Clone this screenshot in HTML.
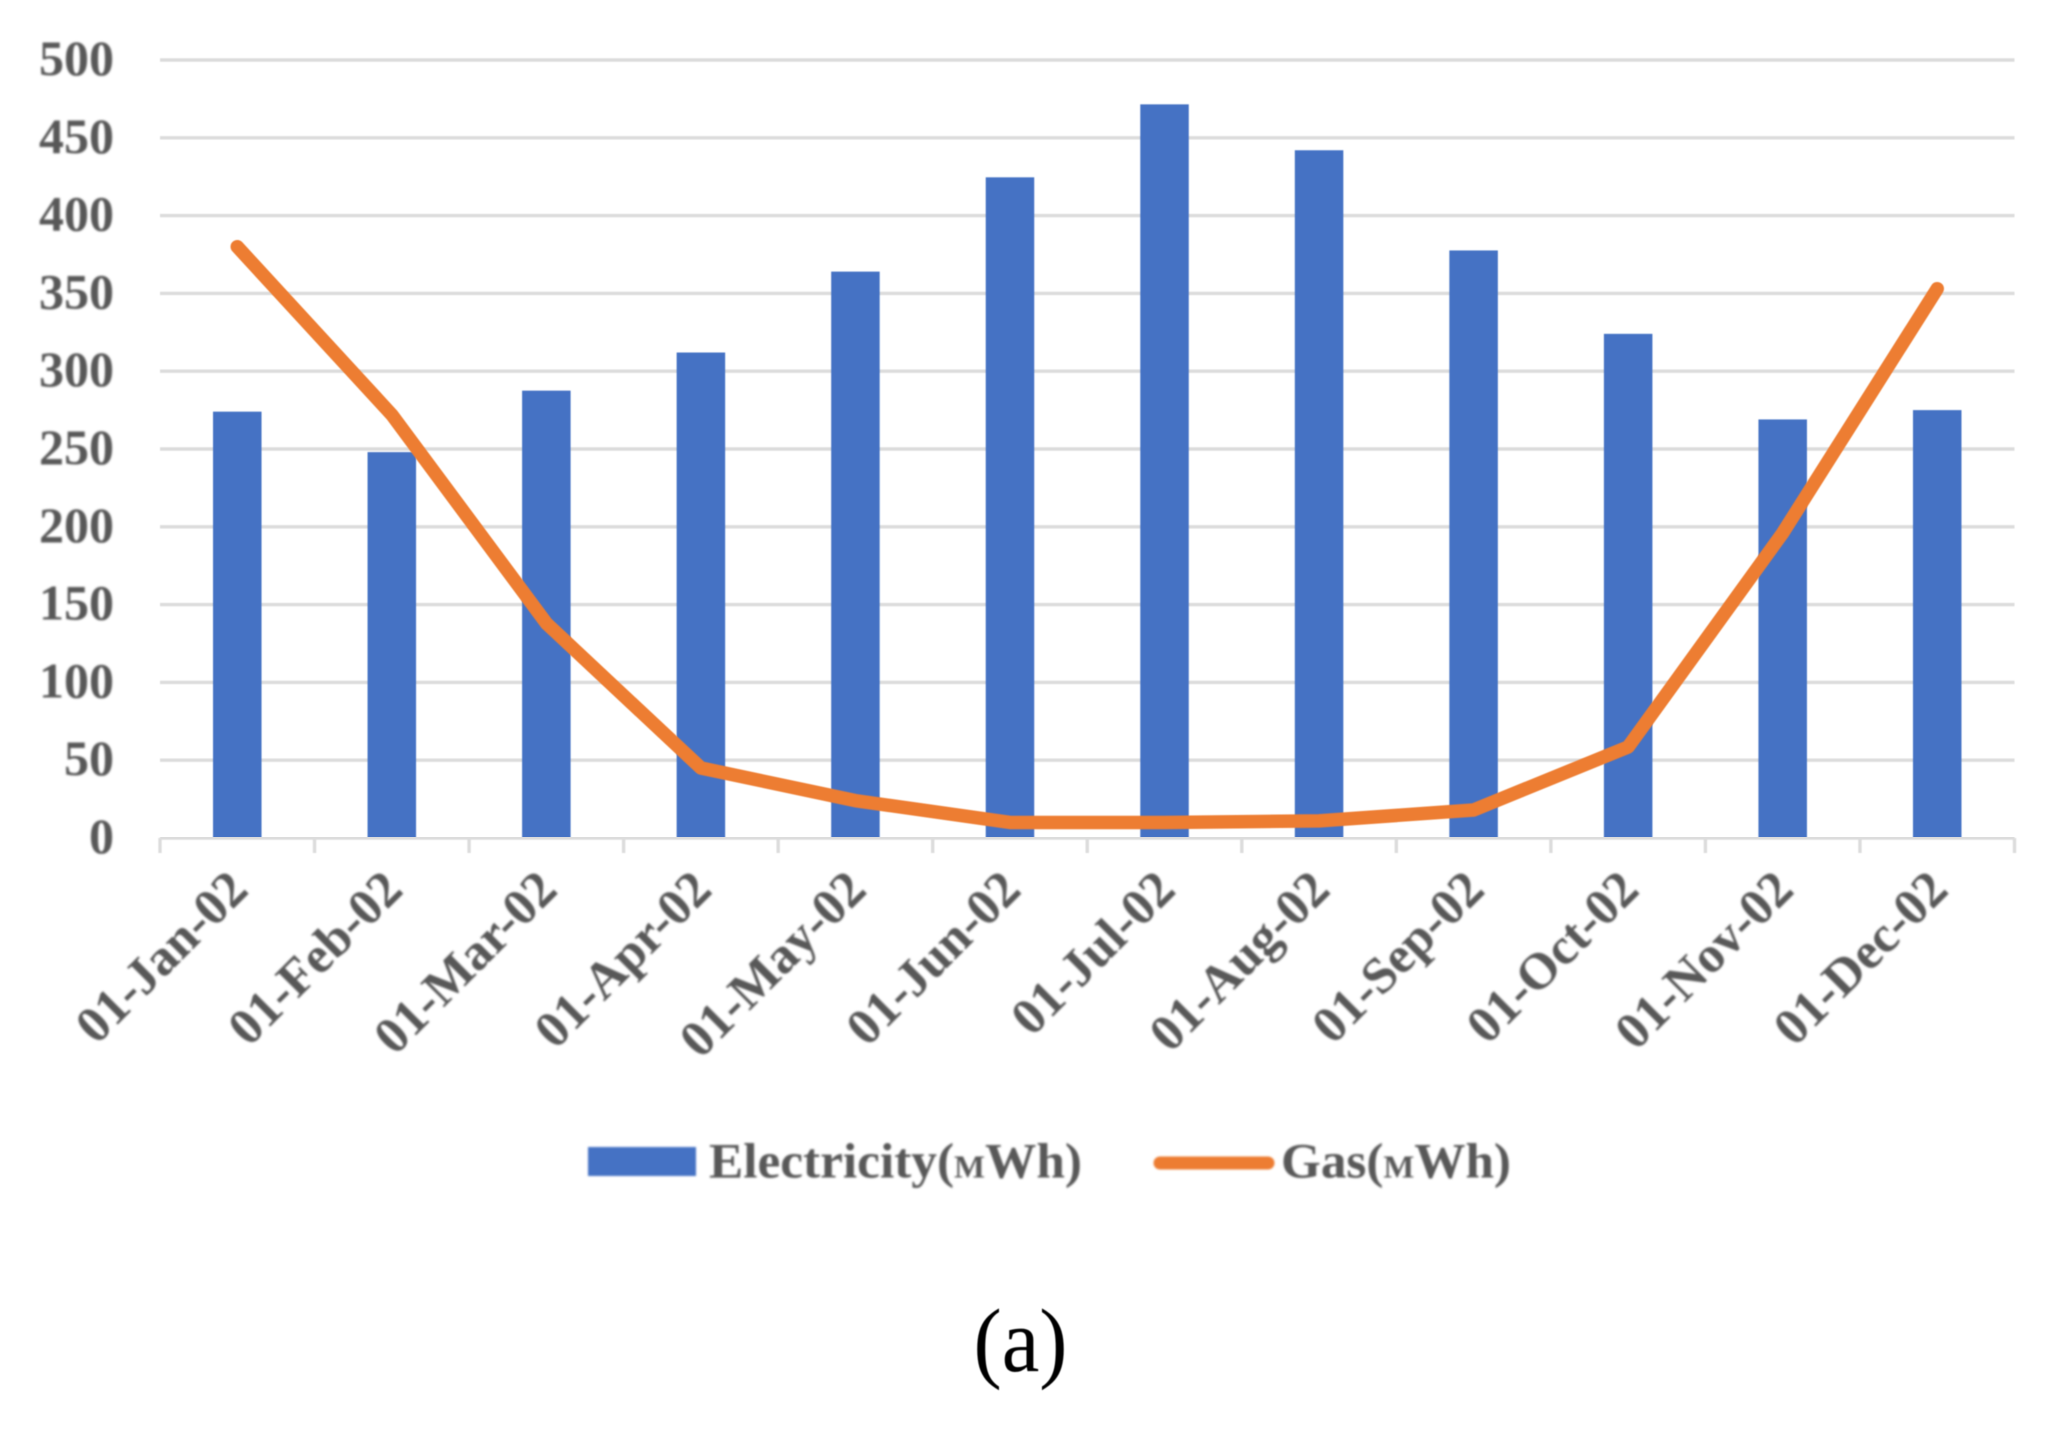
<!DOCTYPE html>
<html lang="en">
<head>
<meta charset="utf-8">
<title>Electricity and gas use, 2002</title>
<style>
html,body{margin:0;padding:0;background:#fff;width:2054px;height:1433px;overflow:hidden}
svg{display:block}
text{font-family:"Liberation Serif",serif}
.lbl{font-weight:bold;fill:#595959}
</style>
</head>
<body>
<svg id="chart" xmlns="http://www.w3.org/2000/svg" width="2054" height="1433" viewBox="0 0 2054 1433">
  <defs>
    <filter id="soft" x="-5%" y="-5%" width="110%" height="110%"><feGaussianBlur stdDeviation="1"/></filter>
    <filter id="softer" x="-5%" y="-5%" width="110%" height="110%"><feGaussianBlur stdDeviation="0.6"/></filter>
  </defs>
  <g id="grid" filter="url(#softer)"></g>
  <g id="bars" filter="url(#softer)"></g>
  <g id="axis" filter="url(#softer)"></g>
  <g id="line" filter="url(#softer)"></g>
  <g id="ylabels" filter="url(#soft)"></g>
  <g id="xlabels" filter="url(#soft)"></g>
  <g id="legend" filter="url(#soft)">
    <g>
      <rect x="588" y="1147" width="108" height="29" fill="#4472c4"/>
      <text class="lbl" x="709" y="1177.5" font-size="50" textLength="373" lengthAdjust="spacingAndGlyphs">Electricity(<tspan font-size="32">M</tspan><tspan font-size="50">Wh)</tspan></text>
    </g>
    <g>
      <line x1="1160" y1="1163" x2="1268" y2="1163" stroke="#ed7d31" stroke-width="13" stroke-linecap="round"/>
      <text class="lbl" x="1281" y="1177.5" font-size="50" textLength="230" lengthAdjust="spacingAndGlyphs">Gas(<tspan font-size="32">M</tspan><tspan font-size="50">Wh)</tspan></text>
    </g>
  </g>
  <text x="1020.5" y="1371" font-size="90" text-anchor="middle" fill="#000" filter="url(#softer)" textLength="94" lengthAdjust="spacingAndGlyphs">(a)</text>
</svg>
<script>
const categories = ["01-Jan-02","01-Feb-02","01-Mar-02","01-Apr-02","01-May-02","01-Jun-02","01-Jul-02","01-Aug-02","01-Sep-02","01-Oct-02","01-Nov-02","01-Dec-02"];
const electricity = [274,248,287.5,312,364,424.6,471.5,442,377.6,324,269,275];
const gas = [380,272,138,45,24,10,10,11,18,58.5,196,353];
const yTicks = [0,50,100,150,200,250,300,350,400,450,500];

const SVGNS = "http://www.w3.org/2000/svg";
const plot = {left:160, right:2014.5, top:60, bottom:838};
const yMax = 500;
const bandWidth = (plot.right - plot.left) / categories.length;
const barWidth = 48.5;

function xScale(i){ return plot.left + bandWidth * (i + 0.5); }
function yScale(v){ return plot.bottom - (v / yMax) * (plot.bottom - plot.top); }
function make(tag, attrs, parent){
  const el = document.createElementNS(SVGNS, tag);
  for (const k in attrs) el.setAttribute(k, attrs[k]);
  parent.appendChild(el);
  return el;
}

const gGrid = document.getElementById("grid");
const gBars = document.getElementById("bars");
const gAxis = document.getElementById("axis");
const gLine = document.getElementById("line");
const gY = document.getElementById("ylabels");
const gX = document.getElementById("xlabels");

yTicks.forEach(function(t){
  if (t !== 0) {
    const g = make("line", {x1:plot.left, x2:plot.right, y1:yScale(t), y2:yScale(t), stroke:"#dcdcdc", "stroke-width":3.4}, gGrid);
    
    
  }
  const lab = make("text", {x:114, y:yScale(t) + 15, "text-anchor":"end", "font-size":50, "class":"lbl"}, gY);
  lab.textContent = t;
  
  
});

electricity.forEach(function(v, i){
  const b = make("rect", {x:xScale(i) - barWidth / 2, y:yScale(v), width:barWidth, height:plot.bottom - yScale(v), fill:"#4472c4"}, gBars);
  
  
});

const axisLine = make("line", {x1:plot.left, x2:plot.right, y1:plot.bottom, y2:plot.bottom, stroke:"#dcdcdc", "stroke-width":3.4}, gAxis);


for (let i = 0; i <= categories.length; i++) {
  const tx = plot.left + bandWidth * i;
  const tick = make("line", {x1:tx, x2:tx, y1:plot.bottom, y2:plot.bottom + 15, stroke:"#dcdcdc", "stroke-width":3.4}, gAxis);
  
  
}

const pts = gas.map(function(v, i){ return xScale(i) + "," + yScale(v); }).join(" ");
const gasLine = make("polyline", {points:pts, fill:"none", stroke:"#ed7d31", "stroke-width":13.5, "stroke-linecap":"round", "stroke-linejoin":"round"}, gLine);



categories.forEach(function(c, i){
  const ax = xScale(i) + 13;
  const ay = 892;
  const lab = make("text", {x:ax, y:ay, "text-anchor":"end", "font-size":51.5, "class":"lbl", transform:"rotate(-45 " + ax + " " + ay + ")"}, gX);
  lab.textContent = c;
  
  
});
</script>
</body>
</html>
